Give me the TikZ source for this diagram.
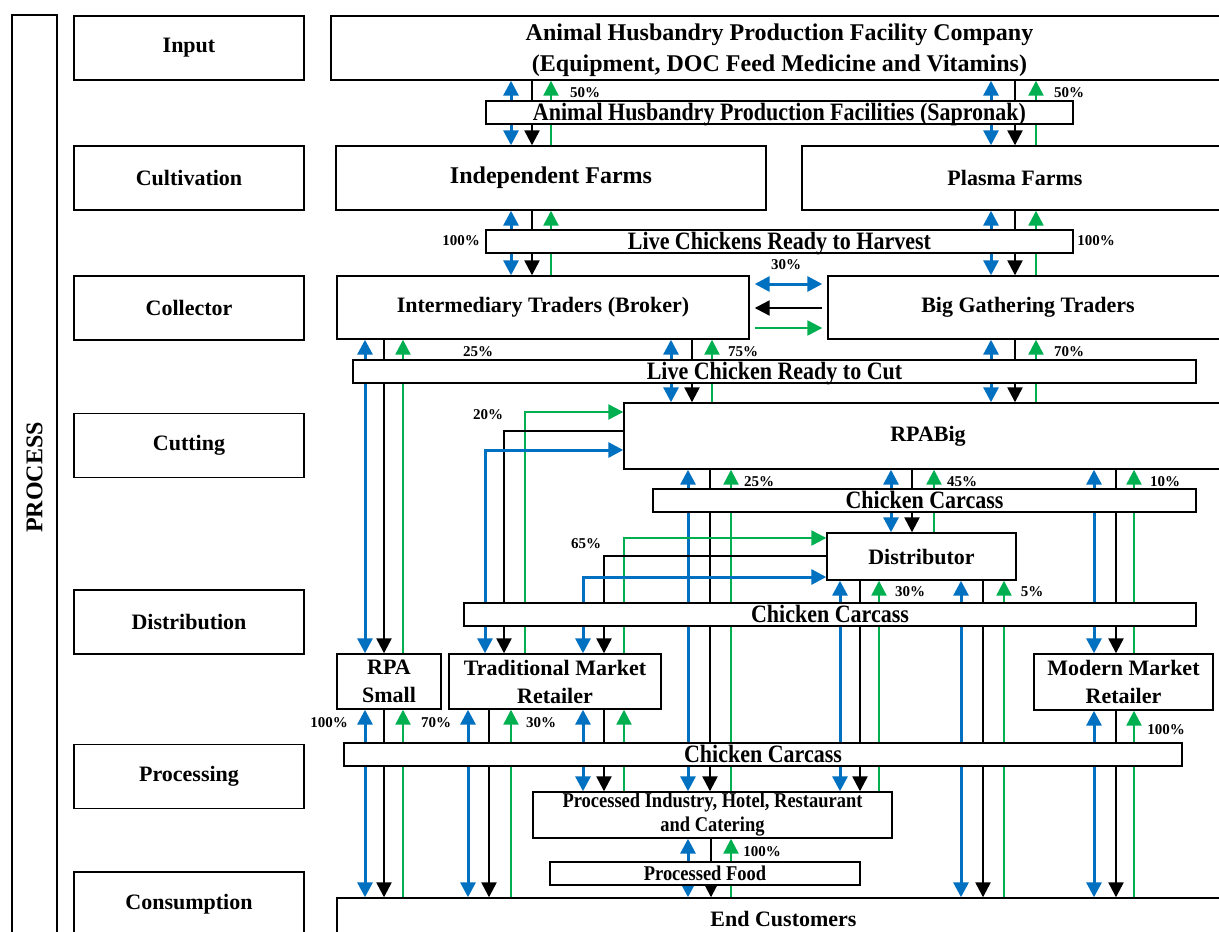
\documentclass[tikz,border=0pt]{standalone}
\usepackage{fontspec}
\setmainfont{Liberation Serif}
\newfontfamily\narrowserif[FakeStretch=0.88]{Liberation Serif}
\usetikzlibrary{arrows.meta}
\definecolor{flowblue}{HTML}{0070C0}
\definecolor{flowgreen}{HTML}{00B050}

\begin{document}
\begin{tikzpicture}[x=1pt, y=-1pt, >={Triangle[length=15pt,width=15pt]},
    box/.style={draw, line width=1.4pt, fill=white, inner sep=0pt, align=center,
        font=\fontsize{22}{28}\selectfont\bfseries},
    stage/.style={box, minimum width=230, minimum height=64},
    bar/.style={box, line width=1.2pt, minimum height=23, text height=17.5, text depth=1,
        font=\narrowserif\fontsize{25}{28}\selectfont\bfseries},
    pct/.style={inner sep=0pt, font=\fontsize{15}{17}\selectfont\bfseries},
    blu/.style={flowblue, line width=3pt},
    blk/.style={black, line width=2.4pt},
    grn/.style={flowgreen, line width=2.4pt}]
    \useasboundingbox[fill=white] (0,0) rectangle (1219,932);
    \clip (0,0) rectangle (1219,932);
    % stages on the left
    \node[box, rotate=90, minimum width=925, minimum height=45,
        font=\fontsize{24}{28}\selectfont\bfseries] (proc) at (34.5,477.5) {PROCESS};
    \node[stage] (sinput) at (189,48)    {Input};
    \node[stage] (scult)  at (189,178)   {Cultivation};
    \node[stage] (scoll)  at (189,308)   {Collector};
    \node[stage] (scut)   at (189,445.5) {Cutting};
    \node[stage] (sdist)  at (189,622)   {Distribution};
    \node[stage] (sproc)  at (189,776.5) {Processing};
    \node[stage] (scons)  at (189,904)   {Consumption};
    % actors
    \node[box, minimum width=897, minimum height=64, font=\fontsize{24}{31}\selectfont\bfseries]
        (top) at (779.5,48) {\rule{0pt}{22pt}Animal Husbandry Production Facility Company\\(Equipment, DOC Feed Medicine and Vitamins)};
    \node[box, minimum width=430, minimum height=64, font=\fontsize{24}{28}\selectfont\bfseries]
        (ifarm)  at (551,178)     {Independent Farms};
    \node[box, minimum width=426, minimum height=64] (pfarm)  at (1015,178)    {Plasma Farms};
    \node[box, minimum width=412, minimum height=63] (broker) at (543,307.5)   {Intermediary Traders (Broker)};
    \node[box, minimum width=400, minimum height=63] (bgt)    at (1028,307.5)  {Big Gathering Traders};
    \node[box, minimum width=608, minimum height=66] (rpab)   at (928,436)     {RPABig};
    \node[box, minimum width=189, minimum height=47] (dist)   at (921.5,556.5) {Distributor};
    \node[box, minimum width=104, minimum height=55] (rpas)   at (389,681.5)   {RPA\\Small};
    \node[box, minimum width=212, minimum height=55] (tmr)    at (555,681.5)   {Traditional Market\\Retailer};
    \node[box, minimum width=179, minimum height=56] (mmr)    at (1123.5,682)  {Modern Market\\Retailer};
    \node[box, minimum width=359, minimum height=46, font=\narrowserif\fontsize{21}{24}\selectfont\bfseries]
        (pind) at (712.5,815) {Processed Industry, Hotel, Restaurant\\and Catering};
    \node[box, minimum width=893, minimum height=42] (cust)   at (783.5,919)   {End Customers};
    % vertical flows: blue info both ways, black goods down, green money up
    \foreach \xb/\xk/\xg/\a/\b in {511/532/551/top/ifarm, 991/1015/1036/top/pfarm,
        511/532/551/ifarm/broker, 991/1015/1036/pfarm/bgt,
        365/384/403/broker/rpas, 671/692/712/broker/rpab, 991/1015/1036/bgt/rpab,
        688/710/731/rpab/pind, 891/912/934/rpab/dist, 1094/1116/1134/rpab/mmr,
        840/860/879/dist/pind, 961/983/1004/dist/cust,
        365/384/403/rpas/cust, 468/489/511/tmr/cust, 583/604/624/tmr/pind,
        1094/1116/1134/mmr/cust, 688/711/731/pind/cust}{
        \draw[blu,<->] (\a.south -| \xb,0) -- (\b.north -| \xb,0);
        \draw[blk,->] (\a.south -| \xk,0) -- (\b.north -| \xk,0);
        \draw[grn,<-] (\a.south -| \xg,0) -- (\b.north -| \xg,0);
    }
    % between the two collectors
    \draw[blu,<->,shorten <=5pt,shorten >=5pt] (broker.east |- 0,284) -- (bgt.west |- 0,284);
    \draw[blk,->,shorten <=5pt,shorten >=5pt] (bgt.west |- 0,308) -- (broker.east |- 0,308);
    \draw[grn,->,shorten <=5pt,shorten >=5pt] (broker.east |- 0,328) -- (bgt.west |- 0,328);
    % traditional market buys from RPA big and distributor
    \draw[grn,->] (tmr.north -| 525,0) |- (rpab.west |- 0,412);
    \draw[blk,->] (rpab.west |- 0,431) -| (tmr.north -| 504,0);
    \draw[blu,<->] (tmr.north -| 485,0) |- (rpab.west |- 0,450);
    \draw[grn,->] (tmr.north -| 624,0) |- (dist.west |- 0,538);
    \draw[blk,->] (dist.west |- 0,556) -| (tmr.north -| 604,0);
    \draw[blu,<->] (tmr.north -| 583,0) |- (dist.west |- 0,577);
    % product bars over the flows
    \node[bar, minimum width=587] (sapr)   at (779.5,112.5) {Animal Husbandry Production Facilities (Sapronak)};
    \node[bar, minimum width=587] (harv)   at (779.5,241.5) {Live Chickens Ready to Harvest};
    \node[bar, minimum width=843] (cutbar) at (774.5,371.5) {Live Chicken Ready to Cut};
    \node[bar, minimum width=543] (carc1)  at (924.5,500.5) {Chicken Carcass};
    \node[bar, minimum width=732] (carc2)  at (830,614.5)   {Chicken Carcass};
    \node[bar, minimum width=838] (carc3)  at (763,754.5)   {Chicken Carcass};
    \node[bar, minimum width=310, text height=14, text depth=1,
        font=\narrowserif\fontsize{21}{24}\selectfont\bfseries] (pfood) at (705,873.5) {Processed Food};
    % shares
    \foreach \t/\x/\y [count=\i] in {50/585/93, 50/1069/93, 100/461/241, 100/1096/241,
        30/786/265, 25/478/352, 75/743/352, 70/1069/352, 20/488/415,
        25/759/482, 45/962/482, 10/1165/482, 65/586/544, 30/910/592, 5/1032/592,
        100/329/723, 70/436/723, 30/541/723, 100/1166/730, 100/762/852}
        \node[pct] (pc\i) at (\x,\y) {\t\%};
\end{tikzpicture}
\end{document}
